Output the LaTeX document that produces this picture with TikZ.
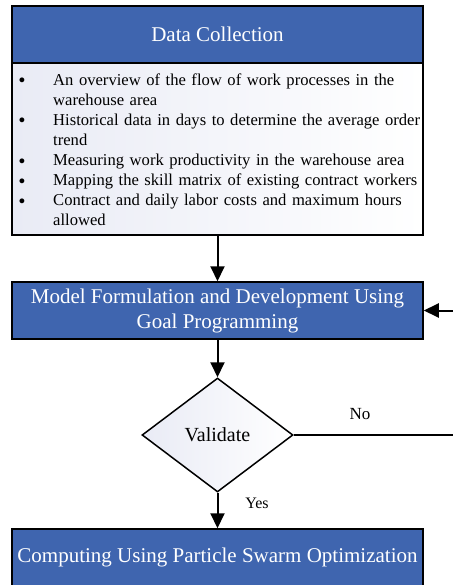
\documentclass[tikz,border=0pt]{standalone}
\usepackage{fontspec}
\setmainfont{Liberation Serif}
\newfontfamily\symfont{DejaVu Sans}
\usetikzlibrary{shapes.geometric,arrows.meta}

\definecolor{boxblue}{HTML}{3F65AF}
\definecolor{paleblue}{HTML}{E9EBF5}

\hyphenpenalty=10000
\exhyphenpenalty=10000

\tikzset{
  headbox/.style={draw=black, line width=1.5pt, fill=boxblue, text=white,
    minimum width=411pt, minimum height=57pt, inner sep=0pt, align=center,
    font=\fontsize{21}{25}\selectfont},
  listbox/.style={draw=black, line width=1.5pt, left color=paleblue, right color=white,
    minimum width=411pt, minimum height=172pt, inner sep=0pt},
  listtext/.style={anchor=north west, inner sep=0pt, text width=430pt, align=left,
    font=\fontsize{16.6}{20.1}\selectfont},
  decision/.style={diamond, draw=black, line width=1.5pt, left color=paleblue, right color=white,
    minimum width=151pt, minimum height=114pt, inner sep=0pt,
    font=\fontsize{20}{24}\selectfont},
  flow/.style={line width=2pt, -{Triangle[length=15pt,width=14pt]}},
  lbl/.style={inner sep=0pt, font=\fontsize{16}{19}\selectfont},
}

% bullet mark and hanging indent for the item list
\newcommand{\bul}{\makebox[36pt][l]{\raisebox{-1.5pt}{\symfont •}}}
\newcommand{\ind}{\hspace*{36pt}}

\begin{document}
\begin{tikzpicture}[x=1pt, y=-1pt]
  \useasboundingbox (0,0) rectangle (452,585);

  % blocks
  \node[headbox] (data) at (217.5,34.5) {Data Collection};
  \node[listbox] (items) at (217.5,149) {};
  \node[listtext] (itemtext) at (17,69) {%
    \rule{0pt}{16pt}\bul An overview of the flow of work processes in the\\
    \ind warehouse area\\
    \bul Historical data in days to determine the average order\\
    \ind trend\\
    \bul Measuring work productivity in the warehouse area\\
    \bul Mapping the skill matrix of existing contract workers\\
    \bul Contract and daily labor costs and maximum hours\\
    \ind allowed};
  \node[headbox] (model) at (217.5,310.5) {Model Formulation and Development Using\\Goal Programming};
  \node[decision] (val) at (217.5,435) {Validate};
  \node[headbox] (pso) at (217.5,557.5) {Computing Using Particle Swarm Optimization};

  % return path of the loop runs just past the right edge
  \coordinate (loop) at (470,435);

  % connectors
  \draw[flow] (items.south) -- (model.north);
  \draw[flow] (model.south) -- (val.north);
  \draw[flow] (val.south) -- (pso.north);
  \draw[flow] (val.east) -- (loop) |- (model.east);

  % branch labels
  \node[lbl, font=\fontsize{17}{20}\selectfont] (no) at (360,414) {No};
  \node[lbl] (yes) at (257,503) {Yes};
\end{tikzpicture}
\end{document}
